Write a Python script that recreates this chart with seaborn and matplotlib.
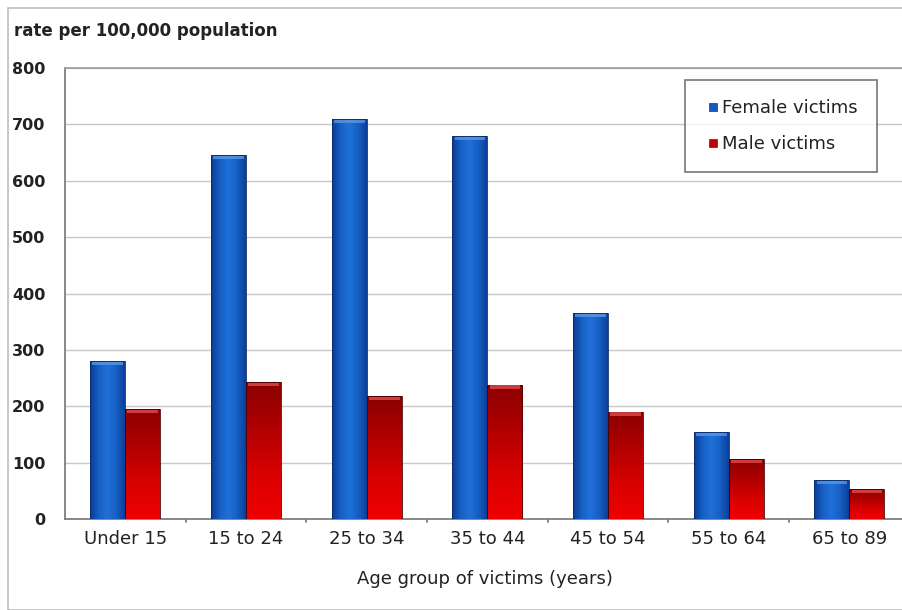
import numpy as np
import pandas as pd
import matplotlib
matplotlib.use("Agg")
import matplotlib.pyplot as plt
import seaborn as sns
from matplotlib.patches import Rectangle
from matplotlib.lines import Line2D
from matplotlib.colors import LinearSegmentedColormap

age_groups = ["Under 15", "15 to 24", "25 to 34", "35 to 44", "45 to 54", "55 to 64", "65 to 89"]
female_rates = [280, 645, 709, 679, 365, 154, 69]
male_rates = [195, 243, 218, 238, 190, 106, 53]
series_names = ["Female victims", "Male victims"]

df = pd.DataFrame({
    "age": age_groups * 2,
    "rate": female_rates + male_rates,
    "victims": [series_names[0]] * len(age_groups) + [series_names[1]] * len(age_groups),
})

sns.set_theme(style="white")
plt.rcParams["font.family"] = ["DejaVu Sans"]

fig = plt.figure(figsize=(9.02, 6.10), dpi=100)
ax = fig.add_axes([65 / 902, 1 - 519 / 610, 840 / 902, 451 / 610])

palette = {series_names[0]: "#1659c4", series_names[1]: "#c00000"}
sns.barplot(data=df, x="age", y="rate", hue="victims", order=age_groups,
            hue_order=series_names, palette=palette, width=0.58,
            saturation=1, ax=ax, legend=False, zorder=3)

# shaded fills for the bars
blue_cmap = LinearSegmentedColormap.from_list(
    "bl", ["#0b3c94", "#1660c4", "#2170d8", "#1660c4", "#0c3f9a"])
red_cmap = LinearSegmentedColormap.from_list(
    "rd", ["#8c0000", "#b00000", "#d80000", "#ee0000"])
n_groups = len(age_groups)
for i, patch in enumerate(ax.patches):
    x0, y0 = patch.get_x(), patch.get_y()
    w, h = patch.get_width(), patch.get_height()
    if h <= 0:
        continue
    if i < n_groups:
        grad = np.linspace(0, 1, 64).reshape(1, -1)
        cmap = blue_cmap
        cap = "#5f9be8"
        edge = "#0a2a6a"
    else:
        # dark at the top, bright at the base
        grad = np.linspace(0, 1, 64).reshape(-1, 1)
        cmap = red_cmap
        cap = "#e85050"
        edge = "#4a0000"
    im = ax.imshow(grad, cmap=cmap, aspect="auto", origin="lower",
                   extent=(x0, x0 + w, y0 + h, y0), zorder=3.5)
    im.set_clip_path(patch)
    patch.set_edgecolor(edge)
    patch.set_linewidth(0.6)
    patch.set_zorder(4)
    patch.set_facecolor("none")
    # bevelled top edge
    ax.add_patch(Rectangle((x0 + w * 0.06, y0 + h - 7), w * 0.88, 6,
                           facecolor=cap, edgecolor="none", alpha=0.75, zorder=4.5))

ax.set_xlim(-0.5, 6.46)
ax.set_ylim(0, 800)
ax.set_yticks(np.arange(0, 801, 100))
ax.yaxis.grid(True, color="#c8c8c8", linewidth=1.0, zorder=0)
ax.set_axisbelow(True)

ax.spines["right"].set_visible(False)
for side in ["left", "bottom", "top"]:
    ax.spines[side].set_color("#7f7f7f")
    ax.spines[side].set_linewidth(1.3)
ax.spines["top"].set_color("#a0a0a0")

ax.set_xlabel("Age group of victims (years)", fontsize=13, color="#222222", labelpad=16)
ax.set_ylabel("")
ax.tick_params(axis="x", labelsize=13, colors="#222222", length=0, pad=8)
ax.tick_params(axis="y", labelsize=11.5, colors="#222222", length=0, pad=14)
for lbl in ax.get_yticklabels():
    lbl.set_fontweight("semibold")

# category separators on the x axis
for b in np.arange(0.5, n_groups - 0.5, 1.0):
    ax.plot([b, b], [0, -6], color="#7f7f7f", lw=1.3, clip_on=False, zorder=5)

fig.text(14 / 902, 1 - 31 / 610, "rate per 100,000 population", fontsize=12,
         fontweight="semibold", color="#222222", va="center", ha="left")

# legend
handles = [Line2D([], [], marker="s", linestyle="none", markersize=6,
                  markerfacecolor=palette[n], markeredgecolor="#333333",
                  markeredgewidth=0.5) for n in series_names]
leg = ax.legend(handles, series_names, loc="upper left",
                bbox_to_anchor=((685 - 65) / 840, 1 - (80 - 68) / 451),
                frameon=True, fancybox=False, fontsize=13, handletextpad=0.0,
                handlelength=1.0, labelspacing=1.0, borderpad=1.05,
                borderaxespad=0)
leg.get_frame().set_edgecolor("#555555")
leg.get_frame().set_linewidth(1.2)
for t in leg.get_texts():
    t.set_color("#222222")

# outer chart border
fig.patches.append(Rectangle((8 / 902, 0), 1, 1 - 8 / 610, transform=fig.transFigure,
                             fill=False, edgecolor="#bdbdbd", linewidth=1.2))

fig.savefig("out.png", dpi=100)
